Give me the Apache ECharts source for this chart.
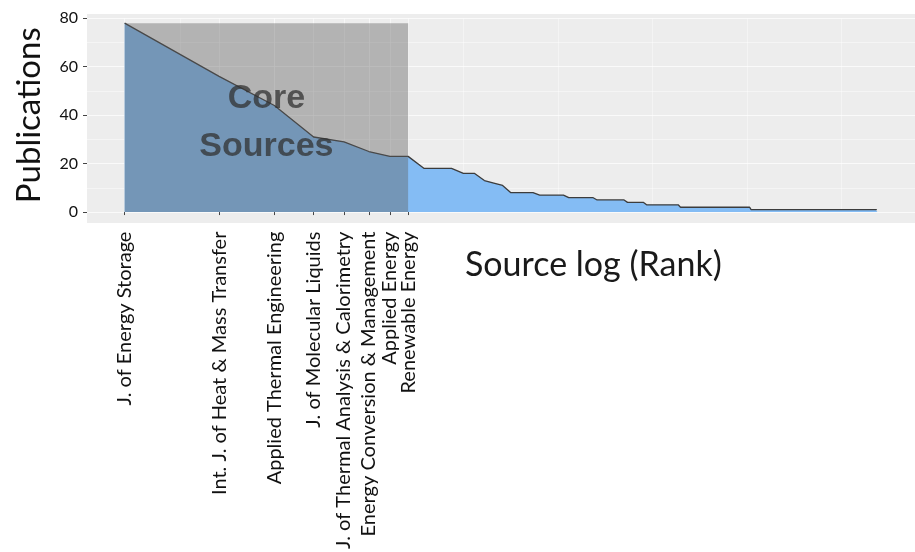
<!DOCTYPE html>
<html>
<head>
<meta charset="utf-8">
<script src="https://cdn.jsdelivr.net/npm/echarts@6/dist/echarts.min.js"></script>
<style>
    html, body { margin: 0; padding: 0; background: #fff; }
    #chart { width: 915px; height: 552px; }
</style>
</head>
<body>
<div id="chart"></div>
<script>
    // core sources (Bradford zone 1), rank 1..8
    const coreSources = [
        'J. of Energy Storage',
        'Int. J. of Heat & Mass Transfer',
        'Applied Thermal Engineering',
        'J. of Molecular Liquids',
        'J. of Thermal Analysis & Calorimetry',
        'Energy Conversion & Management',
        'Applied Energy',
        'Renewable Energy'
    ];
    const corePublications = [78, 56, 44, 31, 29, 25, 23, 23];
    // ranks 9..16
    const nextPublications = [18, 18, 18, 16, 16, 13, 12, 11];
    // ranks 17..250, runs of sources with the same count
    const runPublications = [8, 7, 6, 5, 4, 3, 2, 1];
    const runSourceCounts = [4, 5, 6, 8, 6, 13, 40, 152];
    const yTicks = [0, 20, 40, 60, 80];

    let pubs = corePublications.concat(nextPublications);
    runPublications.forEach((p, i) => {
        for (let k = 0; k < runSourceCounts[i]; k++) pubs.push(p);
    });
    const points = pubs.map((p, i) => [i + 1, p]);
    const coreCount = coreSources.length;
    const corePoints = points.slice(0, coreCount);
    const coreTop = corePublications[0];
    const lastRank = points[points.length - 1][0];

    const chart = echarts.init(document.getElementById('chart'));
    let option = {
        animation: false,
        textStyle: { fontFamily: 'Lato' },
        title: {
            text: 'Source log (Rank)',
            left: 460,
            top: 243,
            textStyle: { fontFamily: 'Lato', fontWeight: 'normal', fontSize: 34, color: '#1a1a1a' }
        },
        graphic: [{
            type: 'rect',
            z: -10,
            silent: true,
            shape: { x: 87, y: 14, width: 833, height: 209 },
            style: { fill: '#ededed' }
        }],
        grid: { left: 87, top: 18.3, width: 833, height: 195 },
        xAxis: {
            type: 'log',
            logBase: 2,
            min: Math.pow(2, -0.398),
            max: Math.pow(2, 8.364),
            splitNumber: 9,
            offset: 9.5,
            axisLine: { show: false },
            axisTick: {
                customValues: corePoints.map(d => d[0]),
                length: 3,
                lineStyle: { color: '#444' }
            },
            axisLabel: {
                // blank label at the last rank, so the min/max overlap check keeps all core names
                customValues: corePoints.map(d => d[0]).concat([lastRank]),
                hideOverlap: false,
                interval: 0,
                rotate: 90,
                margin: 10,
                fontFamily: 'Lato',
                fontSize: 20,
                lineHeight: 14,
                color: '#111',
                formatter: v => coreSources[Math.round(v) - 1] || ''
            },
            splitLine: { show: true, lineStyle: { color: 'rgba(255,255,255,0.55)', width: 1 } },
            minorTick: { show: false, splitNumber: 2 },
            minorSplitLine: { show: true, lineStyle: { color: 'rgba(255,255,255,0.4)', width: 1 } }
        },
        yAxis: {
            type: 'value',
            min: 0,
            max: 80,
            interval: 20,
            name: 'Publications',
            nameLocation: 'middle',
            nameGap: 41,
            nameTextStyle: { fontFamily: 'Lato', fontSize: 33, color: '#111' },
            axisLine: { show: false },
            axisTick: { show: true, length: 4, lineStyle: { color: '#444' } },
            axisLabel: {
                margin: 9,
                fontFamily: 'Lato',
                fontSize: 16,
                color: '#111',
                formatter: v => yTicks.indexOf(v) >= 0 ? String(v) : ''
            },
            splitLine: { show: true, lineStyle: { color: 'rgba(255,255,255,0.7)', width: 1.2 } },
            minorTick: { show: false, splitNumber: 2 },
            minorSplitLine: { show: true, lineStyle: { color: 'rgba(255,255,255,0.45)', width: 1 } }
        },
        series: [
            {
                name: 'Sources',
                type: 'line',
                z: 2,
                symbol: 'none',
                data: points,
                lineStyle: { color: '#3c3c3c', width: 1.3 },
                areaStyle: { color: '#84bcf4', opacity: 1 }
            },
            {
                name: 'Core',
                type: 'line',
                z: 4,
                symbol: 'none',
                data: corePoints,
                lineStyle: { opacity: 0 },
                markArea: {
                    z: 6,
                    silent: true,
                    itemStyle: { color: 'rgba(92,92,92,0.4)' },
                    label: {
                        show: true,
                        position: 'inside',
                        offset: [0, 5],
                        formatter: 'Core\nSources',
                        fontFamily: 'Liberation Sans',
                        fontWeight: 'bold',
                        fontSize: 34,
                        lineHeight: 48,
                        color: 'rgba(50,50,50,0.75)'
                    },
                    data: [[
                        { coord: [corePoints[0][0], 0] },
                        { coord: [corePoints[coreCount - 1][0], coreTop] }
                    ]]
                }
            }
        ]
    };
    chart.setOption(option);
</script>
</body>
</html>
